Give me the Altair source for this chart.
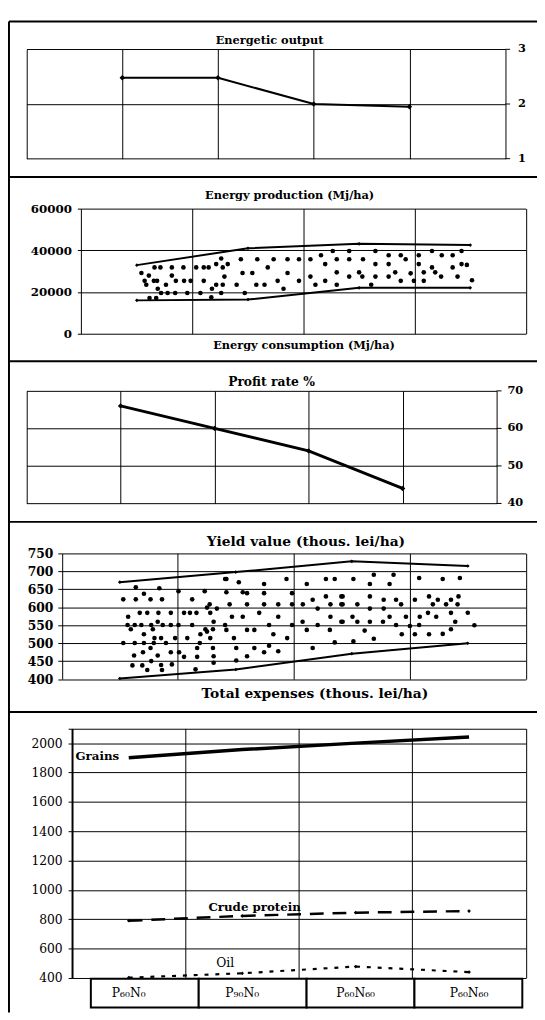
import altair as alt
import pandas as pd

F = "DejaVu Serif"
W, H = 537, 1012

# ---------------- data ----------------
# Panel 1 - Energetic output
eo_pos = [1, 2, 3, 4]
eo_val = [2.48, 2.48, 2.0, 1.95]
eo_ticks = [1, 2, 3]

# Panel 2 - Energy production band
band_pos = [0.5, 1.5, 2.5, 3.5]
prod_upper = [32900, 41000, 43100, 42500]
prod_lower = [16000, 16400, 22000, 22000]
prod_dot_x = [1.259, 1.436, 1.584, 1.731, 1.856, 1.214, 1.318,
              0.659, 0.712, 0.815, 0.919, 1.034, 1.102, 1.146, 1.273, 1.678,
              0.541, 1.451, 1.539, 1.856, 0.608, 0.815, 1.288,
              0.570, 0.653, 0.682, 0.851, 0.925, 0.984, 1.102, 1.767,
              0.585, 0.762, 1.214, 1.273, 1.398, 1.575, 1.649,
              0.688, 1.176, 1.820,
              0.718, 0.777, 0.845, 0.954, 1.072, 1.259, 1.471,
              1.170, 0.614, 0.674,
              2.263, 2.411, 2.647, 3.156, 3.422,
              2.157, 2.766, 2.875, 3.037, 3.244, 3.342,
              1.959, 2.062, 2.299, 2.411, 2.535, 2.919,
              2.195, 2.647, 2.766, 3.037, 3.422,
              3.156, 3.342,
              2.299, 2.500, 2.825, 3.082, 3.185, 2.964,
              2.062, 2.411, 2.529, 2.647, 2.766, 3.238, 3.386,
              1.959, 2.195, 2.875, 2.993, 3.082,
              2.107, 2.299, 2.609,
              3.516, 3.470]
prod_dot_y = [36060, 35740, 35740, 35740, 35740, 33380, 33380,
              31800, 31800, 31800, 31800, 31800, 31800, 31800, 31800, 31800,
              29130, 29130, 29130, 29130, 27870, 27870, 27400,
              25350, 25350, 25350, 25350, 25350, 25350, 25350, 25350,
              23460, 23460, 23460, 23460, 23460, 23460, 23460,
              21570, 21570, 21570,
              19520, 19520, 19520, 19520, 19520, 19520, 19520,
              17470, 17160, 17160,
              39680, 39680, 39680, 39680, 39680,
              37630, 37630, 37630, 37630, 37630, 37630,
              35740, 35740, 35740, 35740, 35740, 35740,
              33380, 33380, 33380, 33380, 33380,
              31800, 31800,
              29440, 29440, 29440, 29440, 29440, 28970,
              27400, 27400, 27400, 27400, 27400, 27400, 27400,
              25350, 25350, 25350, 25350, 25350,
              23460, 23460, 23460,
              25650, 33000]

# Panel 3 - Profit rate
pr_pos = [1, 2, 3, 4]
pr_val = [66, 60, 54, 44]
pr_ticks = [40, 50, 60, 70]

# Panel 4 - Yield value band
yield_upper = [670, 698, 728, 715]
yield_lower = [402, 427, 471, 500]
yield_dot_x = [0.638, 0.841, 1.006, 1.232, 1.408, 0.708, 0.530, 0.638, 0.765, 0.864, 1.124,
               1.275, 1.252, 0.672, 0.737, 0.833, 0.940, 1.054, 1.105, 1.161, 1.280, 1.337,
               0.572, 0.827, 1.309, 0.567, 0.629, 0.686, 0.771, 0.870, 0.940, 1.006, 1.124, 1.408,
               0.595, 0.785, 1.238, 1.303, 0.708, 1.195, 1.252, 0.799, 0.856, 0.977, 1.082, 1.280,
               0.530, 0.629, 0.708, 0.793, 0.898, 1.190, 0.765, 1.167, 1.303, 0.700, 0.940, 1.011,
               0.827, 0.623, 1.054, 1.167, 1.309, 0.771, 1.309, 0.609, 0.694, 0.856, 0.949,
               0.737, 0.864, 1.153,
               1.419, 1.526, 1.744, 1.937, 2.112, 2.277, 2.353, 1.419, 1.560, 1.597, 1.744, 1.985,
               2.163, 2.277, 2.410, 1.447, 1.597, 1.744, 1.866, 1.985, 2.078, 2.206, 2.316, 2.410,
               1.467, 1.560, 1.702, 1.866, 2.076, 2.316, 2.410, 1.419, 1.597, 1.660, 1.787, 1.824,
               1.985, 2.112, 2.206, 2.311, 1.484, 1.943, 1.504, 1.660, 1.744, 1.787, 1.866, 2.163,
               2.353, 1.597, 1.504,
               2.514, 2.656, 2.690, 2.826, 2.860, 3.081, 3.284, 3.432, 2.421, 2.656, 2.775, 2.882,
               2.421, 2.548, 2.656, 2.775, 2.925, 3.044, 3.166, 3.242, 3.355, 3.420, 3.199, 3.313,
               3.412, 2.506, 2.656, 2.548, 2.769, 2.826, 2.967, 3.086, 3.157, 3.228, 3.355, 3.392,
               2.421, 2.882, 3.001, 3.081, 3.355, 2.611, 2.931, 3.044, 3.166, 3.284, 2.690, 2.514,
               3.557, 3.500]
yield_dot_y = [655.9, 653.1, 644.9, 644.9, 678.7, 637.6, 622.1, 622.1, 622.1, 622.1, 622.1,
               608.3, 599.2, 584.6, 584.6, 584.6, 584.6, 584.6, 584.6, 584.6, 584.6, 596.5,
               573.6, 559.9, 559.9, 550.8, 550.8, 550.8, 550.8, 550.8, 550.8, 550.8, 550.8, 550.8,
               538.9, 538.9, 538.9, 538.9, 525.2, 525.2, 532.5, 514.3, 514.3, 514.3, 514.3, 514.3,
               500.6, 500.6, 500.6, 500.6, 500.6, 500.6, 486.9, 486.9, 486.9, 475.0, 475.0, 475.0,
               465.8, 465.8, 462.2, 462.2, 464.0, 450.3, 445.8, 438.4, 438.4, 439.4, 441.2,
               425.6, 425.6, 427.5,
               678.7, 669.6, 665.0, 678.7, 665.0, 678.7, 678.7, 642.1, 642.1, 639.4, 639.4, 639.4,
               621.2, 630.3, 630.3, 608.3, 608.3, 608.3, 608.3, 608.3, 608.3, 596.5, 608.3, 608.3,
               573.6, 573.6, 584.6, 573.6, 559.9, 573.6, 559.9, 537.1, 537.1, 537.1, 550.8, 525.2,
               550.8, 537.1, 550.8, 537.1, 514.3, 514.3, 486.9, 486.9, 475.0, 493.2, 477.7, 486.9,
               502.4, 464.0, 452.1,
               678.7, 665.0, 690.6, 665.0, 690.6, 681.4, 678.7, 681.4, 630.3, 630.3, 621.2, 621.2,
               608.3, 608.3, 596.5, 596.5, 608.3, 621.2, 630.3, 621.2, 621.2, 630.3, 608.3, 608.3,
               608.3, 573.6, 559.9, 559.9, 559.9, 573.6, 573.6, 573.6, 584.6, 573.6, 584.6, 559.9,
               559.9, 550.8, 548.1, 550.8, 538.9, 535.3, 525.2, 525.2, 525.2, 526.1, 512.4, 505.1,
               550.0, 585.0]

# Panel 5 - Yields of grains, crude protein, oil
variants = ["P₆₀N₀", "P₉₀N₀", "P₆₀N₆₀", "P₆₀N₆₀"]
grains = [1900, 1956, 2000, 2042]
protein = [790, 823, 845, 856]
oil = [402, 432, 478, 440]
series_labels = ["Grains", "Crude protein", "Oil"]
label_x = [0.03, 1.61, 1.35]
label_y = [1911, 886, 502]

# ---------------- helpers ----------------
def S(domain, rng):
    return alt.Scale(domain=domain, range=rng, nice=False, zero=False)


def gaxis(orient, offset, values, **kw):
    d = dict(orient=orient, offset=offset, values=values, grid=True,
             gridColor="black", gridWidth=1, gridOpacity=1, domain=False,
             ticks=False, labels=False, title="", labelFont=F, titleFont=F,
             labelColor="black", titleColor="black", tickColor="black",
             labelOverlap=False)
    d.update(kw)
    return alt.Axis(**d)


def rule_h(y):
    return alt.Chart(pd.DataFrame({"k": [0]})).mark_rule(
        color="black", strokeWidth=2).encode(
        x=alt.value(1), x2=alt.value(W), y=alt.value(y))


def rule_v(x, y1, y2):
    return alt.Chart(pd.DataFrame({"k": [0]})).mark_rule(
        color="black", strokeWidth=2).encode(
        x=alt.value(x), y=alt.value(y1), y2=alt.value(y2))


def right_labels(ticks, xr, yd, yr, gap):
    """Tick marks + tick labels on the right of a panel (drawn from the tick list)."""
    d = pd.DataFrame({"v": ticks, "t": [str(v) for v in ticks], "e": [5] * len(ticks)})
    base = alt.Chart(d)
    xs = S([0, 5], [xr, xr + 5])
    tick = base.mark_rule(color="black", strokeWidth=1).encode(
        x=alt.X("k0:Q", scale=xs, axis=None), x2="e:Q",
        y=alt.Y("v:Q", scale=S(yd, yr), axis=None),
    ).transform_calculate(k0="0")
    lab = base.mark_text(font=F, fontSize=11.5, fontWeight="bold", align="left",
                         baseline="middle", color="black", dx=gap).encode(
        x=alt.X("e:Q", scale=xs, axis=None),
        y=alt.Y("v:Q", scale=S(yd, yr), axis=None),
        text="t:N",
    )
    return [tick, lab]


layers = []

# ---------------- frame ----------------
layers += [rule_h(6), rule_h(164), rule_h(351), rule_h(514), rule_h(707),
           rule_v(1, 6, H)]

# ---------------- Panel 1 ----------------
X1, Y1 = [18.8, 504.7], [145.3, 34.3]
df1 = pd.DataFrame({"pos": eo_pos, "val": eo_val})
layers.append(
    alt.Chart(df1).mark_line(
        color="black", strokeWidth=2,
        point=alt.OverlayMarkDef(shape="diamond", size=30, filled=True, color="black")
    ).encode(
        x=alt.X("pos:Q", scale=S([0, 5], X1),
                axis=gaxis("top", -34.3, [0, 1, 2, 3, 4, 5], title="Energetic output",
                           titleX=265, titleY=-9, titleBaseline="middle", titleAlign="center",
                           titleFontSize=11.5, titleFontWeight="bold")),
        y=alt.Y("val:Q", scale=S([1, 3], Y1), axis=gaxis("left", -18.8, eo_ticks)),
    )
)
layers += right_labels(eo_ticks, X1[1], [1, 3], Y1, 8)

# ---------------- Panel 2 ----------------
X2, Y2 = [74.4, 525.6], [323, 196]
df2 = pd.DataFrame({
    "pos": band_pos * 2,
    "val": prod_upper + prod_lower,
    "s": ["upper"] * 4 + ["lower"] * 4,
})
layers.append(
    alt.Chart(df2).mark_line(
        color="black", strokeWidth=2,
        point=alt.OverlayMarkDef(shape="diamond", size=14, filled=True, color="black")
    ).encode(
        x=alt.X("pos:Q", scale=S([0, 4], X2),
                axis=gaxis("top", -196, [0, 1, 2, 3, 4], title="Energy consumption (Mj/ha)",
                           titleY=139, titleBaseline="middle", titleAlign="center",
                           titleFontSize=11.5, titleFontWeight="bold")),
        y=alt.Y("val:Q", scale=S([0, 60000], Y2),
                axis=gaxis("left", -74.4, [0, 20000, 40000, 60000], labels=True,
                           ticks=True, tickSize=4, labelPadding=6, format="d",
                           labelFontSize=12, labelFontWeight="bold",
                           title="Energy production (Mj/ha)", titleAngle=0,
                           titleX=211, titleY=183, titleAlign="center",
                           titleBaseline="middle", titleFontSize=11.5,
                           titleFontWeight="bold")),
        detail="s:N",
    )
)
layers.append(
    alt.Chart(pd.DataFrame({"x": prod_dot_x, "y": prod_dot_y})).mark_circle(
        size=22, color="black", opacity=1).encode(
        x=alt.X("x:Q", scale=S([0, 4], X2), axis=None),
        y=alt.Y("y:Q", scale=S([0, 60000], Y2), axis=None),
    )
)

# ---------------- Panel 3 ----------------
X3, Y3 = [18.8, 496], [495.3, 381]
df3 = pd.DataFrame({"pos": pr_pos, "val": pr_val})
layers.append(
    alt.Chart(df3).mark_line(
        color="black", strokeWidth=3,
        point=alt.OverlayMarkDef(shape="diamond", size=30, filled=True, color="black")
    ).encode(
        x=alt.X("pos:Q", scale=S([0, 5], X3),
                axis=gaxis("top", -381, [0, 1, 2, 3, 4, 5], title="Profit rate %",
                           titleX=267, titleY=-9, titleBaseline="middle", titleAlign="center",
                           titleFontSize=12.5, titleFontWeight="bold")),
        y=alt.Y("val:Q", scale=S([40, 70], Y3), axis=gaxis("left", -18.8, pr_ticks)),
    )
)
layers += right_labels(pr_ticks, X3[1], [40, 70], Y3, 6)

# ---------------- Panel 4 ----------------
X4, Y4 = [54.6, 525.6], [673.7, 546]
df4 = pd.DataFrame({
    "pos": band_pos * 2,
    "val": yield_upper + yield_lower,
    "s": ["upper"] * 4 + ["lower"] * 4,
})
layers.append(
    alt.Chart(df4).mark_line(
        color="black", strokeWidth=2,
        point=alt.OverlayMarkDef(shape="diamond", size=14, filled=True, color="black")
    ).encode(
        x=alt.X("pos:Q", scale=S([0, 4], X4),
                axis=gaxis("top", -546, [0, 1, 2, 3, 4], title="Total expenses (thous. lei/ha)",
                           titleX=311, titleY=142.7, titleBaseline="middle", titleAlign="center",
                           titleFontSize=14, titleFontWeight="bold")),
        y=alt.Y("val:Q", scale=S([400, 750], Y4),
                axis=gaxis("left", -54.6, [400, 450, 500, 550, 600, 650, 700, 750],
                           labels=True, ticks=True, tickSize=4, labelPadding=5,
                           labelFontSize=12.5, labelFontWeight="bold",
                           title="Yield value (thous. lei/ha)", titleAngle=0,
                           titleX=247.4, titleY=533.7, titleAlign="center",
                           titleBaseline="middle", titleFontSize=14,
                           titleFontWeight="bold")),
        detail="s:N",
    )
)
layers.append(
    alt.Chart(pd.DataFrame({"x": yield_dot_x, "y": yield_dot_y})).mark_circle(
        size=22, color="black", opacity=1).encode(
        x=alt.X("x:Q", scale=S([0, 4], X4), axis=None),
        y=alt.Y("y:Q", scale=S([400, 750], Y4), axis=None),
    )
)

# ---------------- Panel 5 ----------------
X5, Y5 = [65, 525.6], [977, 723.7]
df5 = pd.DataFrame({"pos": band_pos, "grains": grains, "protein": protein, "oil": oil})
layers.append(
    alt.Chart(df5).mark_line(color="black", strokeWidth=3.5).encode(
        x=alt.X("pos:Q", scale=S([0, 4], X5), axis=gaxis("top", -723.7, [0, 1, 2, 3, 4])),
        y=alt.Y("grains:Q", scale=S([400, 2100], Y5),
                axis=gaxis("left", -65, [400, 600, 800, 1000, 1200, 1400, 1600, 1800, 2000, 2100],
                           labels=True, ticks=True, tickSize=4, labelPadding=6,
                           labelFontSize=12.5, labelFontWeight="normal", format="d",
                           labelExpr="datum.value == 2100 ? '' : datum.label",
                           domain=True, domainColor="black", domainWidth=2)),
    )
)
layers.append(
    alt.Chart(df5).mark_line(
        color="black", strokeWidth=2.5, strokeDash=[14, 9],
        point=alt.OverlayMarkDef(shape="diamond", size=14, filled=True, color="black")
    ).encode(
        x=alt.X("pos:Q", scale=S([0, 4], X5), axis=None),
        y=alt.Y("protein:Q", scale=S([400, 2100], Y5), axis=None),
    )
)
layers.append(
    alt.Chart(df5).mark_line(
        color="black", strokeWidth=2.2, strokeDash=[4, 7],
        point=alt.OverlayMarkDef(shape="diamond", size=14, filled=True, color="black")
    ).encode(
        x=alt.X("pos:Q", scale=S([0, 4], X5), axis=None),
        y=alt.Y("oil:Q", scale=S([400, 2100], Y5), axis=None),
    )
)
dfl = pd.DataFrame({"label": series_labels, "x": label_x, "y": label_y})
layers.append(
    alt.Chart(dfl[dfl.label == "Grains"]).mark_text(
        font=F, fontSize=12, fontWeight="bold", align="left", baseline="middle",
        color="black").encode(
        x=alt.X("x:Q", scale=S([0, 4], X5), axis=None),
        y=alt.Y("y:Q", scale=S([400, 2100], Y5), axis=None),
        text="label:N",
    )
)
layers.append(
    alt.Chart(dfl[dfl.label == "Crude protein"]).mark_text(
        font=F, fontSize=12, fontWeight="bold", align="center", baseline="middle",
        color="black").encode(
        x=alt.X("x:Q", scale=S([0, 4], X5), axis=None),
        y=alt.Y("y:Q", scale=S([400, 2100], Y5), axis=None),
        text="label:N",
    )
)
layers.append(
    alt.Chart(dfl[dfl.label == "Oil"]).mark_text(
        font=F, fontSize=12.5, fontWeight="normal", align="center", baseline="middle",
        color="black").encode(
        x=alt.X("x:Q", scale=S([0, 4], X5), axis=None),
        y=alt.Y("y:Q", scale=S([400, 2100], Y5), axis=None),
        text="label:N",
    )
)

# category table under panel 5
XT, YT = [84.1, 522.1], [1007, 977.7]
dft = pd.DataFrame({"i": [0, 1, 2, 3], "i2": [1, 2, 3, 4], "lo": [0] * 4, "hi": [1] * 4,
                    "mid": [0.5] * 4, "pos": band_pos, "name": variants})
layers.append(
    alt.Chart(dft).mark_rect(fill="white", stroke="black", strokeWidth=2).encode(
        x=alt.X("i:Q", scale=S([0, 4], XT), axis=None),
        x2="i2:Q",
        y=alt.Y("lo:Q", scale=S([0, 1], YT), axis=None),
        y2="hi:Q",
    )
)
layers.append(
    alt.Chart(dft).mark_text(font=F, fontSize=12.5, color="black", baseline="middle",
                             align="center").encode(
        x=alt.X("pos:Q", scale=S([0, 4], X5), axis=None),
        y=alt.Y("mid:Q", scale=S([0, 1], YT), axis=None),
        text="name:N",
    )
)

chart = alt.layer(*layers).resolve_scale(
    x="independent", y="independent"
).resolve_axis(
    x="independent", y="independent"
).properties(
    width=W, height=H, padding=0, background="white",
    autosize=alt.AutoSizeParams(type="none"),
).configure_view(stroke="transparent")

chart.save("out.html", embed_options={"renderer": "svg", "actions": False})
